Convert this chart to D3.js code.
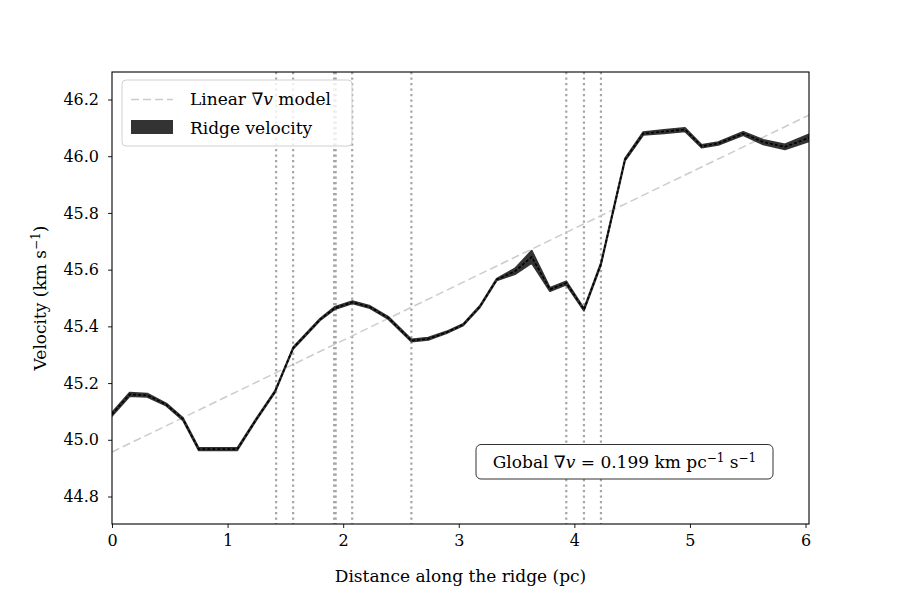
<!DOCTYPE html>
<html>
<head>
<meta charset="utf-8">
<script src="https://cdn.jsdelivr.net/npm/d3@7"></script>
<style>
  body { margin: 0; background: #fff; }
  text { font-family: "DejaVu Serif", "Liberation Serif", serif; }
</style>
</head>
<body>
<div id="chart"></div>
<script>
// ridge velocity (pc, km/s)
const dist = [0.0, 0.153, 0.305, 0.47, 0.614, 0.75, 0.917, 1.084, 1.245, 1.41, 1.568, 1.8, 1.929,
  2.08, 2.232, 2.39, 2.59, 2.736, 2.895, 3.039, 3.183, 3.328, 3.486, 3.631, 3.789, 3.93,
  4.083, 4.23, 4.438, 4.596, 4.775, 4.957, 5.101, 5.245, 5.461, 5.634, 5.822, 6.03];
const vel = [45.09, 45.16, 45.157, 45.124, 45.073, 44.967, 44.967, 44.967, 45.07, 45.17, 45.324, 45.424, 45.465,
  45.485, 45.468, 45.43, 45.35, 45.356, 45.379, 45.406, 45.47, 45.565, 45.594, 45.645, 45.53, 45.553,
  45.459, 45.62, 45.988, 46.08, 46.087, 46.094, 46.035, 46.045, 46.08, 46.05, 46.033, 46.065];
const velErr = [0.006, 0.006, 0.006, 0.004, 0.004, 0.004, 0.004, 0.004, 0.003, 0.003, 0.003, 0.003, 0.004,
  0.004, 0.004, 0.004, 0.004, 0.004, 0.003, 0.003, 0.003, 0.003, 0.01, 0.022, 0.006, 0.006,
  0.004, 0.004, 0.004, 0.005, 0.006, 0.006, 0.005, 0.005, 0.006, 0.008, 0.009, 0.012];

// local gradient change positions (pc)
const breakLines = [1.42, 1.567, 1.922, 1.935, 2.078, 2.59, 3.93, 4.083, 4.23];

// linear model end points
const modelX = [0, 6.03];
const modelV = [44.957, 46.145];

const yTicks = [44.8, 45.0, 45.2, 45.4, 45.6, 45.8, 46.0, 46.2];
const xTicks = [0, 1, 2, 3, 4, 5, 6];

const width = 900;
const height = 600;
const margin = {top: 72, right: 91, bottom: 76, left: 112};
const fontSize = '17px';

const svg = d3.select('#chart')
  .append('svg')
    .attr('width', width)
    .attr('height', height);

const x = d3.scaleLinear()
  .domain([0, 6.03])
  .range([margin.left, width - margin.right]);

const y = d3.scaleLinear()
  .domain([44.703, 46.297])
  .range([height - margin.bottom, margin.top]);

svg.append('defs').append('clipPath').attr('id', 'clip')
  .append('rect')
    .attr('x', margin.left).attr('y', margin.top)
    .attr('width', width - margin.left - margin.right)
    .attr('height', height - margin.top - margin.bottom);

const plot = svg.append('g').attr('clip-path', 'url(#clip)');

// vertical dotted lines
plot.selectAll('.vline')
  .data(breakLines)
  .join('line')
    .attr('class', 'vline')
    .attr('x1', d => x(d)).attr('x2', d => x(d))
    .attr('y1', margin.top).attr('y2', height - margin.bottom)
    .attr('stroke', '#a6a6a6')
    .attr('stroke-width', 2.2)
    .attr('stroke-dasharray', '2.2,3.3');

// linear model
plot.append('line')
  .attr('x1', x(modelX[0])).attr('y1', y(modelV[0]))
  .attr('x2', x(modelX[1])).attr('y2', y(modelV[1]))
  .attr('stroke', '#cccccc')
  .attr('stroke-width', 1.5)
  .attr('stroke-dasharray', '8,4');

const pts = dist.map((d, i) => ({x: d, v: vel[i], e: velErr[i]}));

// uncertainty band
const band = d3.area()
  .x(d => x(d.x))
  .y0(d => y(d.v - d.e))
  .y1(d => y(d.v + d.e));

plot.append('path')
  .attr('d', band(pts))
  .attr('fill', '#333333')
  .attr('stroke', '#333333')
  .attr('stroke-width', 1.8)
  .attr('stroke-linejoin', 'round');

const line = d3.line()
  .x(d => x(d.x))
  .y(d => y(d.v));

plot.append('path')
  .attr('d', line(pts))
  .attr('fill', 'none')
  .attr('stroke', '#000')
  .attr('stroke-width', 1.6)
  .attr('stroke-dasharray', '3,2');

// axes
const xAxis = svg.append('g')
  .attr('transform', `translate(0, ${height - margin.bottom})`)
  .call(d3.axisBottom(x).tickValues(xTicks).tickFormat(d3.format('d')).tickSize(4).tickPadding(7));

const yAxis = svg.append('g')
  .attr('transform', `translate(${margin.left}, 0)`)
  .call(d3.axisLeft(y).tickValues(yTicks).tickFormat(d3.format('.1f')).tickSize(4).tickPadding(9));

[xAxis, yAxis].forEach(a => {
  a.select('.domain').remove();
  a.selectAll('.tick line').attr('stroke', '#000').attr('stroke-width', 0.9);
  a.selectAll('.tick text')
    .attr('fill', '#000')
    .style('font-family', '"DejaVu Serif", serif')
    .style('font-size', '16px');
});

// frame
svg.append('rect')
  .attr('x', margin.left).attr('y', margin.top)
  .attr('width', width - margin.left - margin.right)
  .attr('height', height - margin.top - margin.bottom)
  .attr('fill', 'none')
  .attr('stroke', '#000')
  .attr('stroke-width', 1.1);

// axis labels
svg.append('text')
  .attr('x', (margin.left + width - margin.right) / 2)
  .attr('y', 582)
  .attr('text-anchor', 'middle')
  .attr('font-size', fontSize)
  .text('Distance along the ridge (pc)');

const yl = svg.append('text')
  .attr('transform', `translate(46, ${(margin.top + height - margin.bottom) / 2}) rotate(-90)`)
  .attr('text-anchor', 'middle')
  .attr('font-size', fontSize);
yl.append('tspan').text('Velocity (km s');
yl.append('tspan').attr('font-size', '12px').attr('dy', -6).text('−1');
yl.append('tspan').attr('dy', 6).text(')');

// legend
const lg = svg.append('g');
lg.append('rect')
  .attr('x', 122).attr('y', 80)
  .attr('width', 230).attr('height', 66)
  .attr('rx', 4)
  .attr('fill', '#fff').attr('fill-opacity', 0.8)
  .attr('stroke', '#d0d0d0').attr('stroke-width', 1);
lg.append('line')
  .attr('x1', 131).attr('x2', 173)
  .attr('y1', 99.5).attr('y2', 99.5)
  .attr('stroke', '#cccccc').attr('stroke-width', 1.5)
  .attr('stroke-dasharray', '8,4');
lg.append('rect')
  .attr('x', 131).attr('y', 120)
  .attr('width', 42).attr('height', 14)
  .attr('fill', '#333333');
const t1 = lg.append('text').attr('x', 190).attr('y', 105).attr('font-size', fontSize);
t1.append('tspan').text('Linear ∇');
t1.append('tspan').attr('font-style', 'italic').text('v');
t1.append('tspan').text(' model');
lg.append('text').attr('x', 190).attr('y', 134).attr('font-size', fontSize).text('Ridge velocity');

// annotation box
const ann = svg.append('g');
ann.append('rect')
  .attr('x', 476).attr('y', 444.5)
  .attr('width', 297).attr('height', 34.5)
  .attr('rx', 5)
  .attr('fill', '#fff')
  .attr('stroke', '#333').attr('stroke-width', 1);
const at = ann.append('text')
  .attr('x', 624.5).attr('y', 468)
  .attr('text-anchor', 'middle')
  .attr('font-size', fontSize);
at.append('tspan').text('Global ∇');
at.append('tspan').attr('font-style', 'italic').text('v');
at.append('tspan').text(' = 0.199 km pc');
at.append('tspan').attr('font-size', '12px').attr('dy', -6).text('−1');
at.append('tspan').attr('dy', 6).text(' s');
at.append('tspan').attr('font-size', '12px').attr('dy', -6).text('−1');
</script>
</body>
</html>
